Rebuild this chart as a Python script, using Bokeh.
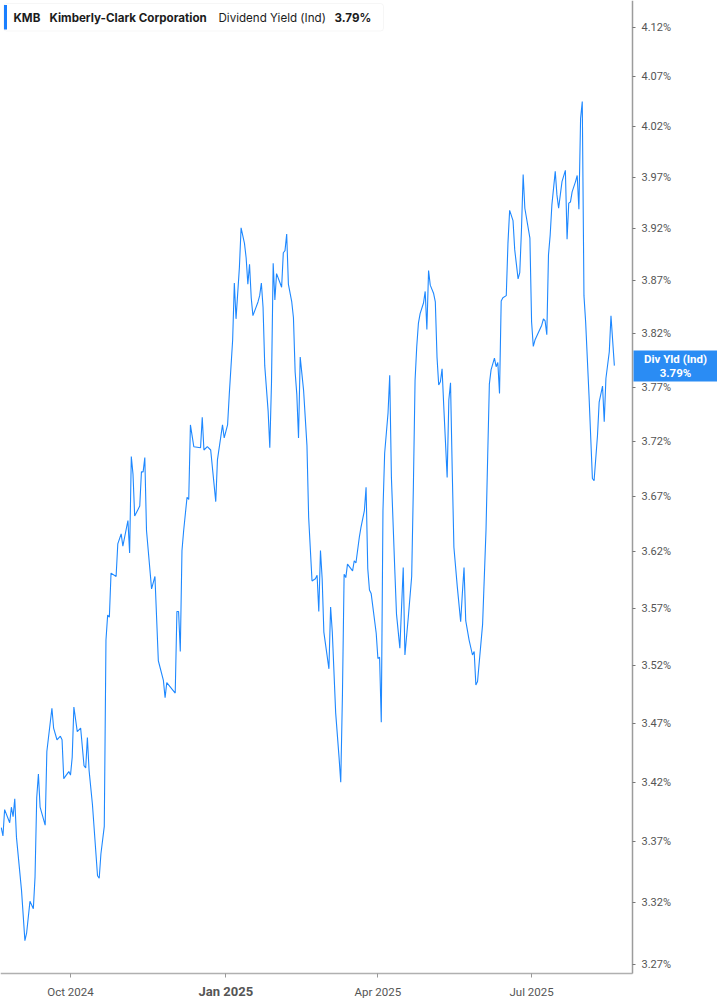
import math
import pandas as pd
from bokeh.plotting import figure
from bokeh.models import Range1d, FixedTicker, PrintfTickFormatter, BoxAnnotation, Label, ColumnDataSource
from bokeh.embed import file_html
from bokeh.resources import INLINE

# ---------------- data ----------------
start_date = "2024-08-20"
day_offsets = [
    1, 2, 3, 6, 7, 8, 9, 10, 13, 15, 16, 18, 20, 21, 22, 23, 24, 27, 28, 31,
    32, 34, 36, 37, 38, 41, 42, 43, 44, 46, 48, 50, 51, 52, 53, 55, 58, 59, 60, 62,
    63, 64, 65, 66, 69, 70, 72, 73, 76, 77, 78, 79, 80, 83, 84, 85, 86, 87, 90, 92,
    94, 97, 98, 99, 104, 105, 106, 107, 108, 109, 111, 112, 113, 115, 119, 120, 121, 123, 125, 128,
    129, 132, 133, 135, 136, 138, 139, 140, 142, 143, 145, 146, 147, 148, 149, 150, 153, 154, 155, 156,
    157, 159, 160, 161, 162, 163, 164, 167, 168, 169, 170, 171, 173, 174, 175, 176, 177, 178, 180, 182,
    183, 185, 187, 188, 189, 190, 191, 192, 195, 196, 197, 199, 201, 202, 203, 204, 205, 206, 209, 210,
    211, 213, 214, 216, 217, 218, 219, 220, 223, 224, 225, 226, 227, 228, 230, 231, 232, 234, 235, 237,
    239, 240, 242, 244, 245, 246, 247, 248, 249, 251, 252, 253, 254, 255, 257, 258, 259, 260, 261, 262,
    263, 265, 266, 267, 268, 269, 271, 273, 274, 275, 276, 278, 280, 281, 282, 283, 286, 288, 289, 290,
    291, 293, 294, 295, 296, 297, 298, 300, 301, 302, 304, 305, 307, 308, 309, 310, 311, 314, 315, 316,
    317, 321, 322, 323, 324, 325, 326, 327, 329, 330, 331, 332, 333, 335, 336, 337, 338, 339, 341, 342,
    343, 344, 345, 346, 347, 349, 351, 352, 354, 355, 357, 358, 359, 361, 362, 364,
]
yield_pct = [
    3.382, 3.375, 3.397, 3.386, 3.399, 3.391, 3.406, 3.374, 3.330, 3.289,
    3.295, 3.321, 3.315, 3.341, 3.407, 3.427, 3.399, 3.384, 3.446, 3.483,
    3.466, 3.456, 3.459, 3.456, 3.423, 3.429, 3.426, 3.441, 3.484, 3.463,
    3.466, 3.434, 3.432, 3.458, 3.430, 3.401, 3.342, 3.340, 3.360, 3.383,
    3.542, 3.564, 3.562, 3.601, 3.598, 3.627, 3.636, 3.625, 3.648, 3.619,
    3.706, 3.690, 3.652, 3.661, 3.692, 3.692, 3.705, 3.639, 3.587, 3.598,
    3.524, 3.507, 3.492, 3.505, 3.496, 3.567, 3.567, 3.532, 3.621, 3.639,
    3.669, 3.667, 3.735, 3.715, 3.714, 3.742, 3.712, 3.715, 3.712, 3.665,
    3.703, 3.735, 3.723, 3.735, 3.763, 3.814, 3.868, 3.834, 3.883, 3.921,
    3.906, 3.892, 3.867, 3.886, 3.854, 3.837, 3.850, 3.856, 3.868, 3.845,
    3.790, 3.748, 3.714, 3.774, 3.887, 3.852, 3.877, 3.864, 3.897, 3.899,
    3.915, 3.867, 3.850, 3.835, 3.784, 3.763, 3.723, 3.798, 3.767, 3.716,
    3.651, 3.594, 3.596, 3.599, 3.567, 3.621, 3.596, 3.549, 3.517, 3.571,
    3.549, 3.479, 3.441, 3.420, 3.494, 3.600, 3.597, 3.609, 3.603, 3.612,
    3.610, 3.633, 3.642, 3.657, 3.678, 3.605, 3.586, 3.583, 3.548, 3.526,
    3.527, 3.471, 3.657, 3.709, 3.746, 3.781, 3.687, 3.604, 3.565, 3.535,
    3.606, 3.529, 3.562, 3.598, 3.678, 3.776, 3.808, 3.830, 3.839, 3.849,
    3.860, 3.824, 3.880, 3.866, 3.858, 3.850, 3.798, 3.772, 3.775, 3.787,
    3.752, 3.687, 3.758, 3.774, 3.694, 3.624, 3.589, 3.558, 3.583, 3.606,
    3.559, 3.542, 3.529, 3.532, 3.503, 3.506, 3.556, 3.639, 3.706, 3.773,
    3.786, 3.797, 3.789, 3.793, 3.764, 3.851, 3.854, 3.856, 3.906, 3.938,
    3.928, 3.900, 3.872, 3.878, 3.919, 3.973, 3.940, 3.911, 3.831, 3.808,
    3.814, 3.828, 3.834, 3.832, 3.819, 3.895, 3.914, 3.943, 3.976, 3.953,
    3.940, 3.953, 3.966, 3.977, 3.910, 3.945, 3.946, 3.956, 3.966, 3.972,
    3.939, 4.028, 4.045, 3.856, 3.831, 3.762, 3.686, 3.684, 3.725, 3.756,
    3.771, 3.738, 3.778, 3.803, 3.837, 3.790,
]
x_tick_dates = ["2024-10-01", "2025-01-01", "2025-04-01", "2025-07-01"]
x_tick_labels = ["Oct 2024", "Jan 2025", "Apr 2025", "Jul 2025"]
x_tick_bold = [False, True, False, False]
y_ticks = [3.27, 3.32, 3.37, 3.42, 3.47, 3.52, 3.57, 3.62, 3.67, 3.72,
           3.77, 3.82, 3.87, 3.92, 3.97, 4.02, 4.07, 4.12]
symbol = "KMB"
company = "Kimberly-Clark Corporation"
metric = "Dividend Yield (Ind)"
last_text = "3.79%"
badge_title = "Div Yld (Ind)"
badge_value = "3.79%"

# ---------------- layout (pixel geometry of the page) ----------------
W, H = 717, 1005               # whole canvas is the frame; axes sit at fixed locations
AXIS_X_PX, AXIS_Y_PX = 632, 973
ORIGIN = pd.Timestamp("2024-10-01")
ORIGIN_PX, PX_PER_DAY = 70.0, 1.689
LOG_REF_VAL, LOG_REF_PX = 3.27, 963.6
PX_PER_LOG = 937.0 / math.log(4.12 / 3.27)

ORIGIN_MS = ORIGIN.value / 1e6
DAY_MS = 86400000.0


def xd(px):
    return ORIGIN_MS + (px - ORIGIN_PX) / PX_PER_DAY * DAY_MS


def yv(py):
    return LOG_REF_VAL * math.exp((LOG_REF_PX - py) / PX_PER_LOG)


x_start, x_end = xd(0), xd(W)
y_start, y_end = yv(H), yv(0)

dates = pd.Timestamp(start_date) + pd.to_timedelta(day_offsets, unit="D")
src = ColumnDataSource(dict(date=dates, yld=yield_pct))

p = figure(frame_width=W, frame_height=H,
           x_axis_type="datetime", y_axis_type="log", y_axis_location="right",
           x_range=Range1d(x_start, x_end), y_range=Range1d(y_start, y_end),
           output_backend="svg", toolbar_location=None,
           min_border=0, min_border_left=0, min_border_right=0, min_border_top=0, min_border_bottom=0)
p.outline_line_color = None
p.xgrid.visible = False
p.ygrid.visible = False
p.background_fill_color = "white"
p.border_fill_color = "white"

p.line(x="date", y="yld", source=src, line_color="#1e88ff", line_width=1.1)

# right (y) axis, pinned at its pixel column
yax = p.yaxis[0]
yax.fixed_location = xd(AXIS_X_PX)
yax.bounds = (yv(AXIS_Y_PX), y_end)
yax.ticker = FixedTicker(ticks=y_ticks, minor_ticks=[])
yax.formatter = PrintfTickFormatter(format="%.2f%%")
yax.axis_line_color = "#9c9c9c"
yax.axis_line_width = 1.5
yax.major_tick_in = 0
yax.major_tick_out = 3
yax.major_tick_line_color = "#777777"
yax.minor_tick_line_color = None
yax.major_label_text_font = "Roboto"
yax.major_label_text_font_size = "11px"
yax.major_label_text_color = "#555555"
yax.major_label_standoff = 6

# bottom (x) axis, pinned at its pixel row
tick_ms = [pd.Timestamp(d).value // 10**6 for d in x_tick_dates]
xax = p.xaxis[0]
xax.fixed_location = yv(AXIS_Y_PX)
xax.bounds = (x_start, xd(AXIS_X_PX))
xax.ticker = FixedTicker(ticks=tick_ms, minor_ticks=[])
xax.major_label_overrides = {t: ("" if b else lab) for t, lab, b in zip(tick_ms, x_tick_labels, x_tick_bold)}
xax.axis_line_color = "#b0b0b0"
xax.axis_line_width = 1.5
xax.major_tick_in = 0
xax.major_tick_out = 4
xax.major_tick_line_color = "#999999"
xax.minor_tick_line_color = None
xax.major_label_text_font = "Roboto"
xax.major_label_text_font_size = "11.5px"
xax.major_label_text_color = "#555555"
xax.major_label_standoff = 7

for t, lab, b in zip(tick_ms, x_tick_labels, x_tick_bold):
    if b:
        p.add_layout(Label(x=t, y=yv(991), text=lab, text_align="center", text_baseline="middle",
                           text_font="Roboto", text_font_style="bold", text_font_size="13px",
                           text_color="#555555"))

# legend box (top-left)
p.add_layout(BoxAnnotation(left=xd(3), right=xd(383), top=yv(3), bottom=yv(30.5),
                           fill_color="white", fill_alpha=1.0, line_color="#e2e2e2", line_width=1,
                           border_radius=3))
p.add_layout(BoxAnnotation(left=xd(3.5), right=xd(6.5), top=yv(4.5), bottom=yv(29),
                           fill_color="#1a7fff", fill_alpha=1.0, line_color=None))
legend_parts = [(symbol, 13, "bold"), (company, 49, "bold"), (metric, 218, "normal"), (last_text, 334, "bold")]
for txt, px, style in legend_parts:
    p.add_layout(Label(x=xd(px), y=yv(17), text=txt, text_align="left", text_baseline="middle",
                       text_font="Inter", text_font_style=style, text_font_size="11.6px",
                       text_color="#1c1c1c"))

# last value badge on the right axis
p.add_layout(BoxAnnotation(left=xd(633), right=xd(W), top=yv(350), bottom=yv(381),
                           fill_color="#2a8cf4", fill_alpha=1.0, line_color=None))
p.add_layout(Label(x=xd(675), y=yv(358.5), text=badge_title, text_align="center", text_baseline="middle",
                   text_font="Roboto", text_font_style="bold", text_font_size="11.5px", text_color="white"))
p.add_layout(Label(x=xd(675), y=yv(372.5), text=badge_value, text_align="center", text_baseline="middle",
                   text_font="Roboto", text_font_style="bold", text_font_size="11.5px", text_color="white"))

open("out.html", "w").write(file_html(p, INLINE))
